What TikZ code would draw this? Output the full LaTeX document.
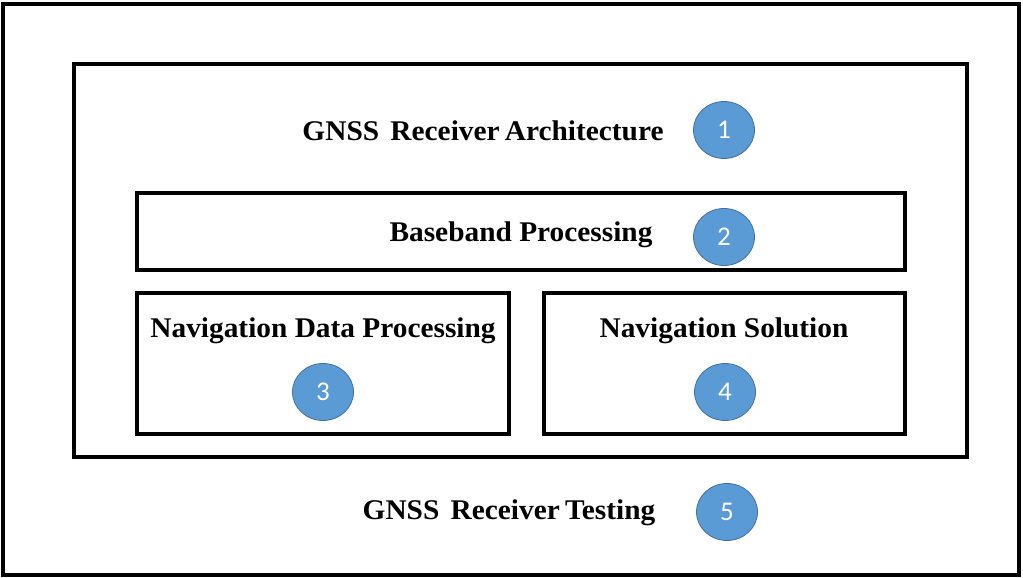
\documentclass[tikz,border=0pt]{standalone}
\usepackage{fontspec}
\setmainfont{Liberation Serif}
\newfontfamily\numfont{Carlito}
\usetikzlibrary{shapes.geometric}
\definecolor{badgeblue}{RGB}{91,155,213}
\definecolor{badgeedge}{RGB}{65,113,156}
\begin{document}
\begin{tikzpicture}[x=1pt,y=-1pt,
  frame/.style={draw=black,line width=4pt},
  lbl/.style={font=\bfseries\fontsize{28.5}{30}\selectfont,inner sep=0pt,anchor=center,xscale=1.03},
  badge/.style={ellipse,draw=badgeedge,fill=badgeblue,line width=0.8pt,minimum width=61pt,minimum height=57pt,inner sep=0pt,text=white,font=\numfont\fontsize{27}{28}\selectfont}]
\useasboundingbox (0,0) rectangle (1023,578);
\draw[frame] (3,4.5) rectangle (1018.5,574.5);
\draw[frame] (74,64) rectangle (967,457);
\draw[frame] (137,193) rectangle (905,270);
\draw[frame] (137,293) rectangle (509,434);
\draw[frame] (544,293) rectangle (905,434);
\node[lbl] (t1) at (483,131) {GNSS\hspace{11pt}Receiver\hspace{5pt}Architecture};
\node[badge] (b1) at (724,130) {1};
\node[lbl] (t2) at (521,235) {Baseband Processing};
\node[badge] (b2) at (724,237) {2};
\node[lbl] (t3) at (323,331) {Navigation Data Processing};
\node[badge] (b3) at (323,392) {3};
\node[lbl] (t4) at (724,331) {Navigation Solution};
\node[badge] (b4) at (725,392) {4};
\node[lbl] (t5) at (509,513) {GNSS\hspace{11pt}Receiver\hspace{5pt}Testing};
\node[badge] (b5) at (727,512) {5};
\end{tikzpicture}
\end{document}
